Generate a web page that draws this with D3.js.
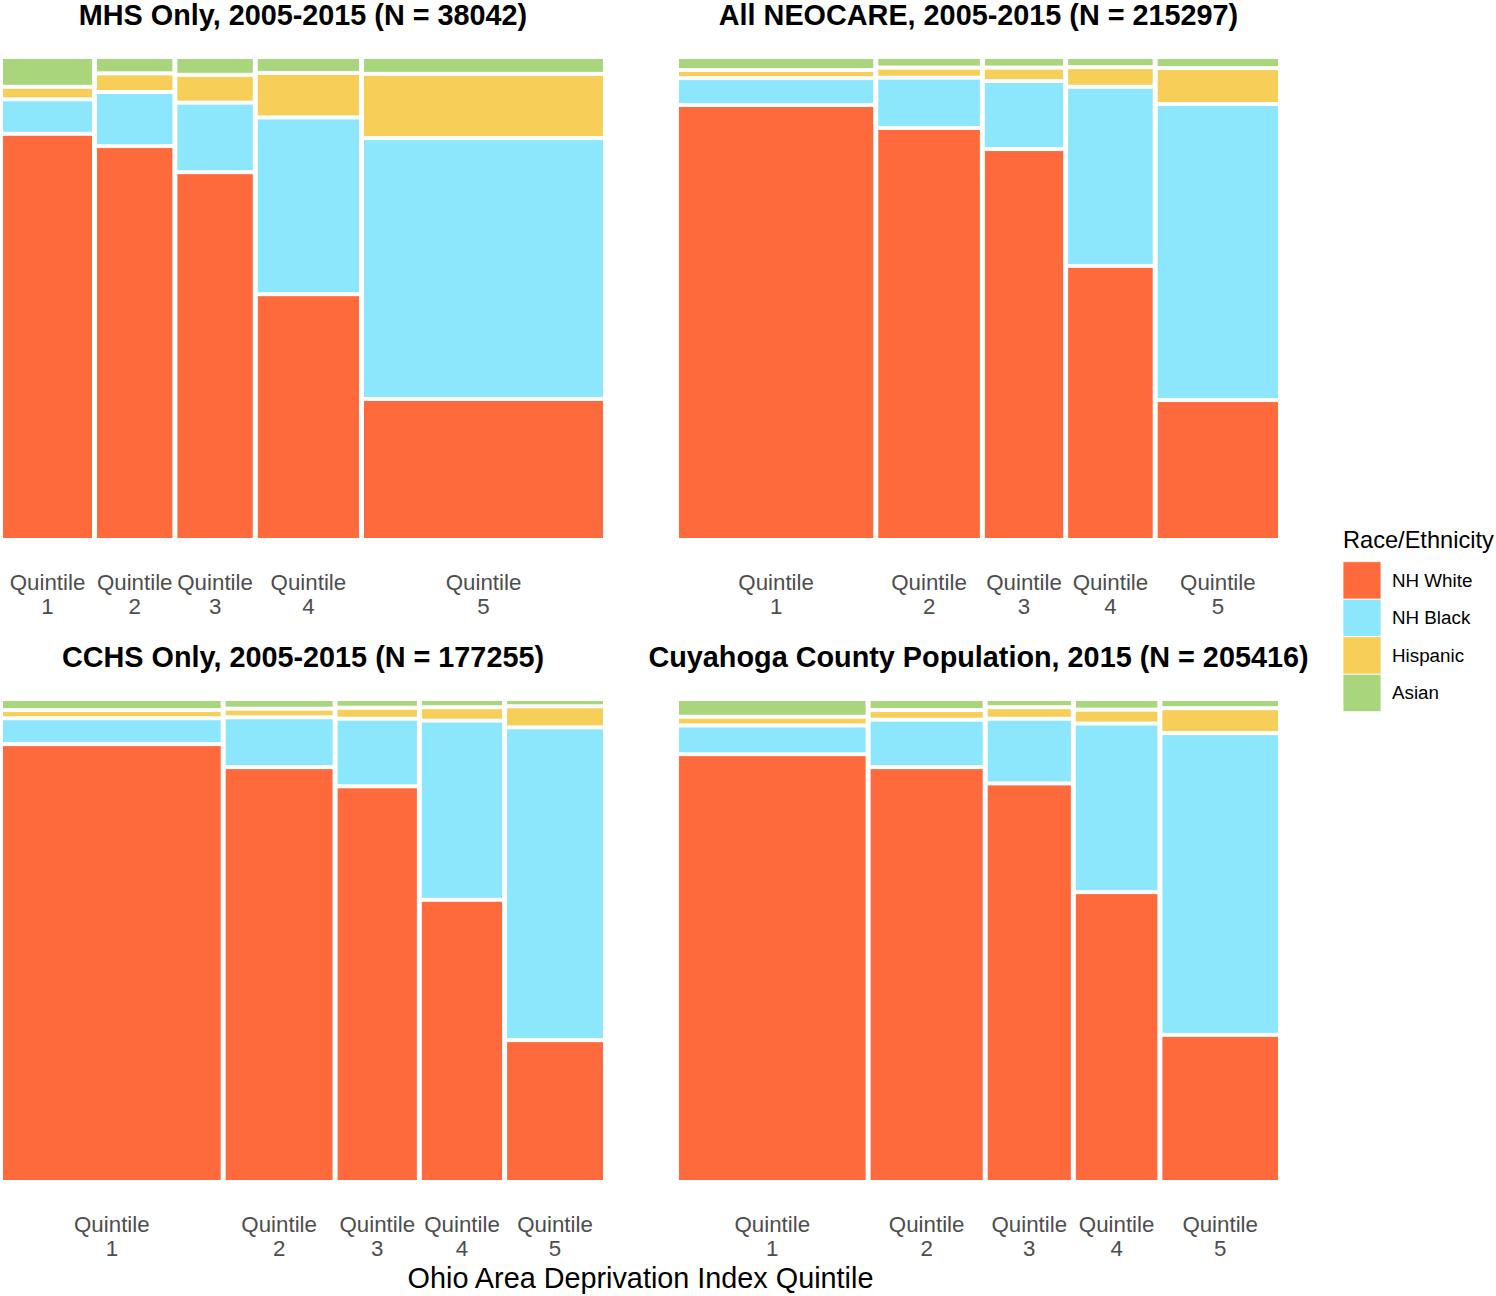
<!DOCTYPE html>
<html>
<head>
<meta charset="utf-8">
<script src="https://cdn.jsdelivr.net/npm/d3@7"></script>
<style>
  body { margin: 0; background: #fff; }
  text { font-family: "Liberation Sans", Arial, Helvetica, sans-serif; }
</style>
</head>
<body>
<div id="chart"></div>
<script>
// categories
const quintiles = ['1', '2', '3', '4', '5'];
const races = ['NH White', 'NH Black', 'Hispanic', 'Asian'];
const raceColors = ['#FF6A3D', '#8CE7FD', '#F6CE58', '#A9D57D'];

// share of each panel's patients falling in each quintile (bar widths)
const mhsShare = [0.1525, 0.134, 0.134, 0.177, 0.4025];
const neocareShare = [0.3285, 0.178, 0.139, 0.1495, 0.205];
const cchsShare = [0.367, 0.1865, 0.1405, 0.142, 0.164];
const cuyahogaShare = [0.3157, 0.1955, 0.1472, 0.1444, 0.1972];

// race/ethnicity proportions within each quintile: [White, Black, Hispanic, Asian]
const mhsRace = [
  [0.843, 0.072, 0.026, 0.058],
  [0.819, 0.113, 0.039, 0.030],
  [0.763, 0.145, 0.058, 0.033],
  [0.509, 0.369, 0.093, 0.029],
  [0.290, 0.544, 0.134, 0.031]
];
const neocareRace = [
  [0.904, 0.056, 0.017, 0.023],
  [0.856, 0.105, 0.021, 0.018],
  [0.812, 0.142, 0.028, 0.018],
  [0.568, 0.374, 0.041, 0.017],
  [0.288, 0.618, 0.075, 0.019]
];
const cchsRace = [
  [0.910, 0.054, 0.017, 0.019],
  [0.862, 0.104, 0.018, 0.016],
  [0.822, 0.141, 0.023, 0.014],
  [0.585, 0.374, 0.028, 0.013],
  [0.292, 0.653, 0.044, 0.011]
];
const cuyahogaRace = [
  [0.889, 0.060, 0.018, 0.033],
  [0.862, 0.099, 0.020, 0.019],
  [0.828, 0.135, 0.024, 0.013],
  [0.601, 0.352, 0.029, 0.018],
  [0.303, 0.630, 0.052, 0.015]
];

const panelTitles = [
  'MHS Only, 2005-2015 (N = 38042)',
  'All NEOCARE, 2005-2015 (N = 215297)',
  'CCHS Only, 2005-2015 (N = 177255)',
  'Cuyahoga County Population, 2015 (N = 205416)'
];

const width = 1496;
const height = 1296;

let svg = d3
  .select('#chart')
  .append('svg')
  .attr('width', width)
  .attr('height', height);

let panels = [
  { title: panelTitles[0], share: mhsShare, race: mhsRace, x0: 3, x1: 603, y0: 59, y1: 538 },
  { title: panelTitles[1], share: neocareShare, race: neocareRace, x0: 679, x1: 1278, y0: 59, y1: 538 },
  { title: panelTitles[2], share: cchsShare, race: cchsRace, x0: 3, x1: 603, y0: 701, y1: 1180 },
  { title: panelTitles[3], share: cuyahogaShare, race: cuyahogaRace, x0: 679, x1: 1278, y0: 701, y1: 1180 }
];

let gapX = 2.5;
let gapY = 2;

function drawPanel(p) {
  let g = svg.append('g');

  let xScale = d3.scaleLinear().domain([0, d3.sum(p.share)]).range([p.x0, p.x1]);
  let yScale = d3.scaleLinear().domain([0, 1]).range([p.y1, p.y0]);

  let cumX = d3.cumsum(p.share);
  let cells = [];
  let centers = [];

  p.share.forEach((s, i) => {
    let left = i === 0 ? 0 : cumX[i - 1];
    let right = cumX[i];
    let xl = xScale(left) + (i === 0 ? 0 : gapX);
    let xr = xScale(right) - (i === p.share.length - 1 ? 0 : gapX);
    centers.push((xl + xr) / 2);

    // stack races bottom-up, normalised within the quintile
    let props = p.race[i];
    let tot = d3.sum(props);
    let acc = 0;
    props.forEach((v, j) => {
      let lo = acc / tot;
      acc += v;
      let hi = acc / tot;
      let yb = yScale(lo) - (j === 0 ? 0 : gapY);
      let yt = yScale(hi) + (j === props.length - 1 ? 0 : gapY);
      cells.push({ x: xl, w: xr - xl, y: yt, h: Math.max(0, yb - yt), race: j });
    });
  });

  g.selectAll('.cell')
    .data(cells)
    .enter()
    .append('rect')
    .attr('class', 'cell')
    .attr('x', (d) => d.x)
    .attr('y', (d) => d.y)
    .attr('width', (d) => d.w)
    .attr('height', (d) => d.h)
    .attr('fill', (d) => raceColors[d.race]);

  // panel title
  g.append('text')
    .attr('x', (p.x0 + p.x1) / 2)
    .attr('y', p.y0 - 34)
    .attr('text-anchor', 'middle')
    .attr('font-size', 28.8)
    .attr('font-weight', 'bold')
    .attr('fill', '#000')
    .text(p.title);

  // tick labels, two lines
  let ticks = g
    .selectAll('.tick-label')
    .data(quintiles)
    .enter()
    .append('text')
    .attr('class', 'tick-label')
    .attr('text-anchor', 'middle')
    .attr('font-size', 22.3)
    .attr('fill', '#4D4D4D');

  ticks
    .append('tspan')
    .attr('x', (d, i) => centers[i])
    .attr('y', p.y1 + 52)
    .text('Quintile');

  ticks
    .append('tspan')
    .attr('x', (d, i) => centers[i])
    .attr('y', p.y1 + 75.5)
    .text((d) => d);
}

panels.forEach(drawPanel);

// shared x axis title
svg
  .append('text')
  .attr('x', (3 + 1278) / 2)
  .attr('y', 1288)
  .attr('text-anchor', 'middle')
  .attr('font-size', 28.8)
  .attr('fill', '#000')
  .text('Ohio Area Deprivation Index Quintile');

// legend
let legend = svg.append('g').attr('transform', 'translate(1343, 0)');

legend
  .append('text')
  .attr('x', 0)
  .attr('y', 548)
  .attr('font-size', 23.6)
  .attr('fill', '#000')
  .text('Race/Ethnicity');

let keySize = 37.5;
let legendItems = legend
  .selectAll('.legend-item')
  .data(races)
  .enter()
  .append('g')
  .attr('class', 'legend-item')
  .attr('transform', (d, i) => `translate(0, ${561.7 + i * keySize})`);

legendItems
  .append('rect')
  .attr('width', 38)
  .attr('height', keySize)
  .attr('fill', (d, i) => raceColors[i])
  .attr('stroke', '#fff')
  .attr('stroke-width', 0.8);

legendItems
  .append('text')
  .attr('x', 49)
  .attr('y', keySize / 2 + 6.5)
  .attr('font-size', 18.8)
  .attr('fill', '#000')
  .text((d) => d);
</script>
</body>
</html>
